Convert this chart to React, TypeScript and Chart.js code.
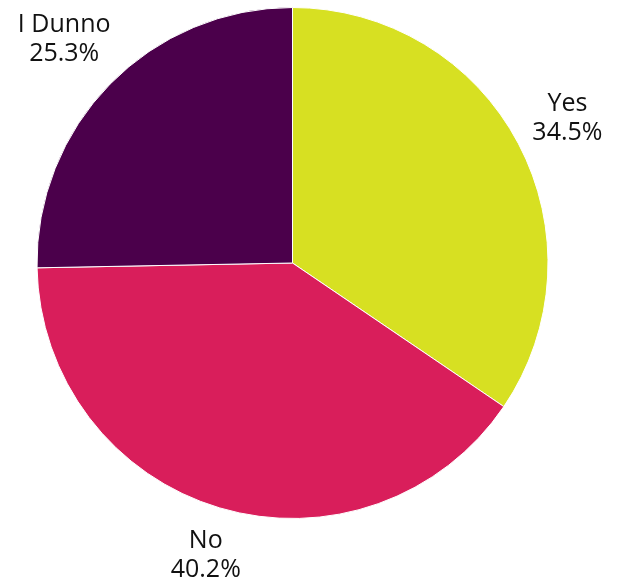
import React, { useEffect, useRef } from "react";
import { Chart, registerables } from "chart.js";

Chart.register(...registerables);

const categories = ["Yes", "No", "I Dunno"];
const values = [34.5, 40.2, 25.3];
const valueLabels = ["34.5%", "40.2%", "25.3%"];
const colors = ["#d7e022", "#d91e5b", "#4b004b"];

const outerLabels = {
  id: "outerLabels",
  afterDatasetsDraw(chart: any) {
    const ctx = chart.ctx;
    const meta = chart.getDatasetMeta(0);
    ctx.save();
    ctx.font = "25px 'Open Sans', sans-serif";
    ctx.fillStyle = "#111111";
    ctx.textAlign = "center";
    ctx.textBaseline = "middle";
    meta.data.forEach((arc: any, i: number) => {
      const { x, y, startAngle, endAngle, outerRadius } = arc.getProps(
        ["x", "y", "startAngle", "endAngle", "outerRadius"],
        true
      );
      const mid = (startAngle + endAngle) / 2;
      const c = Math.cos(mid);
      const s = Math.sin(mid);
      const hw = Math.max(ctx.measureText(categories[i]).width, ctx.measureText(valueLabels[i]).width) / 2;
      const hh = 29;
      const r = outerRadius + 11 + Math.abs(c) * hw + Math.abs(s) * hh;
      const cx = x + c * r;
      const cy = y + s * r;
      ctx.fillText(categories[i], cx, cy - 14);
      ctx.fillText(valueLabels[i], cx, cy + 15);
    });
    ctx.restore();
  },
};

export default function App() {
  const ref = useRef<HTMLCanvasElement>(null);
  useEffect(() => {
    if (!ref.current) return;
    const chart = new Chart(ref.current, {
      type: "pie",
      data: {
        labels: categories,
        datasets: [
          {
            data: values,
            backgroundColor: colors,
            borderColor: "#ffffff",
            borderWidth: 1,
          },
        ],
      },
      options: {
        responsive: false,
        animation: false,
        layout: { padding: { left: 36, right: 75, top: 7, bottom: 63 } },
        plugins: { legend: { display: false }, tooltip: { enabled: false } },
      },
      plugins: [outerLabels],
    });
    return () => chart.destroy();
  }, []);
  return (
    <div style={{ position: "fixed", left: 0, top: 0, width: 624, height: 582, background: "#fff" }}>
      <canvas ref={ref} width={624} height={582} style={{ display: "block" }} />
    </div>
  );
}
